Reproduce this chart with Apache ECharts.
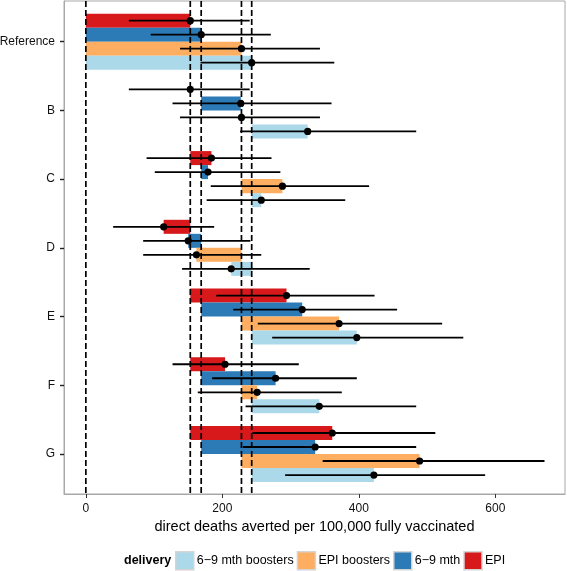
<!DOCTYPE html>
<html>
<head>
<meta charset="utf-8">
<script src="https://cdn.jsdelivr.net/npm/echarts@6/dist/echarts.min.js"></script>
<style>html,body{margin:0;padding:0;background:#fff;}#c{width:567px;height:571px;}</style>
</head>
<body>
<div id="c"></div>
<script>
const categories = ['Reference','B','C','D','E','F','G'];
const deliveries = ['EPI','6\u22129 mth','EPI boosters','6\u22129 mth boosters'];
const legendOrder = ['6\u22129 mth boosters','EPI boosters','6\u22129 mth','EPI'];
const xTicks = [0,200,400,600];

const epiMid  = [153,153,184,114,294,204,361];
const epiLo   = [63,63,89,40,191,127,244];
const epiHi   = [240,240,272,188,423,312,512];

const m69Mid  = [169,227,179,150,317,278,336];
const m69Lo   = [95,127,101,84,216,185,230];
const m69Hi   = [271,360,285,241,456,397,484];

const epiBMid = [228,228,288,162,371,251,489];
const epiBLo  = [138,138,183,84,252,164,347];
const epiBHi  = [343,343,415,257,522,375,672];

const m69BMid = [243,325,257,213,397,342,422];
const m69BLo  = [168,226,177,141,273,234,292];
const m69BHi  = [364,484,380,328,553,484,585];

const mids = [epiMid, m69Mid, epiBMid, m69BMid];
const los  = [epiLo, m69Lo, epiBLo, m69BLo];
const his  = [epiHi, m69Hi, epiBHi, m69BHi];
const colors = ['#d7191c','#2c7bb6','#fdae61','#abd9e9'];

const refLines = [0].concat(mids.map(m => m[0]));
const band = 0.204;

const series = [];
deliveries.forEach((name, k) => {
  const mid = mids[k];
  series.push({
    type: 'custom', name: name, z: 2,
    itemStyle: { color: colors[k] },
    encode: { x: [1, 2], y: 0 },
    data: categories.map((c, i) => [i, i === 0 ? 0 : mid[0], mid[i]]),
    renderItem: function (params, api) {
      const i = api.value(0), a = api.value(1), b = api.value(2);
      const off = (k - 1.5) * band;
      const p1 = api.coord([Math.min(a, b), i + off]);
      const p2 = api.coord([Math.max(a, b), i + off]);
      const h = Math.abs(api.size([0, band])[1]);
      return { type: 'rect', shape: { x: p1[0], y: p1[1] - h / 2, width: p2[0] - p1[0], height: h },
               style: { fill: colors[k] } };
    }
  });
});
series.push({
  type: 'custom', z: 3, silent: true,
  encode: { x: 0, y: 1 },
  data: refLines.map(v => [v, 0]),
  renderItem: function (params, api) {
    const x = api.coord([api.value(0), 0])[0];
    const cs = params.coordSys;
    return { type: 'line', shape: { x1: x, y1: cs.y, x2: x, y2: cs.y + cs.height },
             style: { stroke: '#000', lineWidth: 1.7, lineDash: [6, 3] } };
  }
});
deliveries.forEach((name, k) => {
  series.push({
    type: 'custom', z: 4, silent: true,
    encode: { x: [1, 2], y: 0 },
    data: categories.map((c, i) => [i, los[k][i], his[k][i], mids[k][i]]),
    renderItem: function (params, api) {
      const i = api.value(0);
      const off = (k - 1.5) * band;
      const pl = api.coord([api.value(1), i + off]);
      const ph = api.coord([api.value(2), i + off]);
      const pm = api.coord([api.value(3), i + off]);
      return { type: 'group', children: [
        { type: 'line', shape: { x1: pl[0], y1: pl[1], x2: ph[0], y2: ph[1] }, style: { stroke: '#000', lineWidth: 1.8 } },
        { type: 'circle', shape: { cx: pm[0], cy: pm[1], r: 3.6 }, style: { fill: '#000' } }
      ]};
    }
  });
});

const chart = echarts.init(document.getElementById('c'), null, { renderer: 'canvas' });
chart.setOption({
  animation: false,
  backgroundColor: '#fff',
  textStyle: { fontFamily: 'Liberation Sans, Arial, sans-serif' },
  grid: { left: 64, top: 1, width: 501, height: 493, show: true, borderColor: '#a8a8a8', borderWidth: 1,
          containLabel: false, outerBoundsMode: 'none' },
  xAxis: {
    type: 'value', min: -32, max: 702,
    splitLine: { show: false },
    axisLine: { show: true, onZero: false, lineStyle: { color: '#a8a8a8', width: 1 } },
    axisTick: { show: true, customValues: xTicks, length: 4, lineStyle: { color: '#333', width: 1 } },
    axisLabel: { customValues: xTicks, margin: 9, fontSize: 12, color: '#111', fontFamily: 'Liberation Sans' },
    name: 'direct deaths averted per 100,000 fully vaccinated',
    nameLocation: 'middle', nameGap: 19,
    nameTextStyle: { fontSize: 14.5, color: '#000', fontFamily: 'Liberation Sans' }
  },
  yAxis: {
    type: 'value', inverse: true, min: -0.592, max: 6.582,
    splitLine: { show: false },
    axisLine: { show: true, onZero: false, lineStyle: { color: '#a8a8a8', width: 1 } },
    axisTick: { show: true, customValues: [0,1,2,3,4,5,6], length: 4, lineStyle: { color: '#222', width: 1.4 } },
    axisLabel: { customValues: [0,1,2,3,4,5,6], formatter: v => categories[Math.round(v)], margin: 9,
                 fontSize: 12, color: '#111', fontFamily: 'Liberation Sans' }
  },
  legend: {
    data: legendOrder, left: 175, top: 551, orient: 'horizontal', padding: 0,
    icon: 'rect', itemWidth: 18, itemHeight: 18, itemGap: 3,
    itemStyle: { borderColor: '#d4d4d4', borderWidth: 1.5 },
    textStyle: { fontSize: 12.5, color: '#000', fontFamily: 'Liberation Sans', padding: [0, 0, 0, -2] },
    selectedMode: false
  },
  graphic: [{
    type: 'text', left: 124, top: 554,
    style: { text: 'delivery', font: 'bold 12.5px Liberation Sans', fill: '#000' }
  }],
  series: series
});
</script>
</body>
</html>
